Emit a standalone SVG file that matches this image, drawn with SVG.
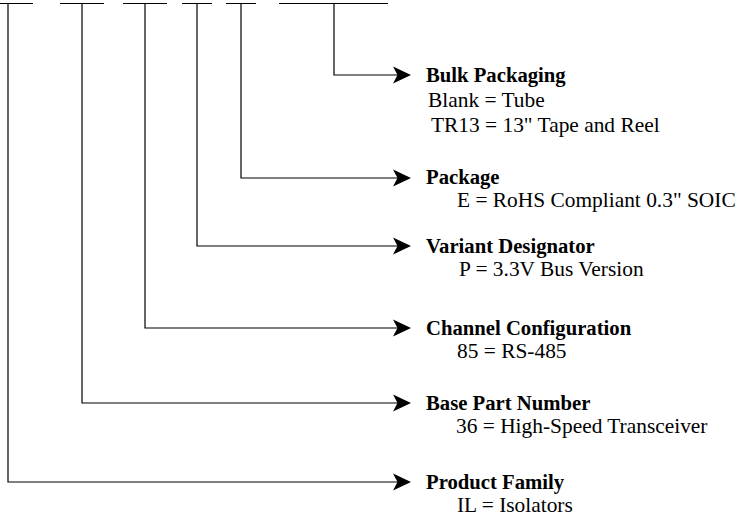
<svg xmlns="http://www.w3.org/2000/svg" width="739" height="520" viewBox="0 0 739 520">
<style>
.ln{stroke:#000;stroke-width:1.2;fill:none}
.ah{fill:#000;stroke:none}
.t{font-family:"Liberation Serif","Times New Roman",serif;font-size:21.4px;fill:#000}
.b{font-weight:bold;font-size:20.7px}
</style>
<defs>
<path id="arr" d="M0,0 L-18,-8.5 L-13.5,0 L-18,8.5 Z"/>
</defs>
<rect width="739" height="520" fill="#fff"/>
<g id="connectors">
<path class="ln" d="M0,3.5 H33 M60,3.5 H104 M123,3.5 H167 M182,3.5 H212 M226,3.5 H256 M279,3.5 H388"/>
<path class="ln" d="M334,3.5 V75 H398"/>
<use href="#arr" class="ah" x="411" y="75"/>
<path class="ln" d="M241,3.5 V178 H398"/>
<use href="#arr" class="ah" x="411" y="178"/>
<path class="ln" d="M197,3.5 V246 H398"/>
<use href="#arr" class="ah" x="411" y="246"/>
<path class="ln" d="M145,3.5 V328 H398"/>
<use href="#arr" class="ah" x="411" y="328"/>
<path class="ln" d="M82,3.5 V403 H398"/>
<use href="#arr" class="ah" x="411" y="403"/>
<path class="ln" d="M8,3.5 V482 H398"/>
<use href="#arr" class="ah" x="411" y="482"/>
</g>
<g id="bulk-packaging">
<text class="t b" x="426" y="82">Bulk Packaging</text>
<text class="t" x="428" y="107">Blank = Tube</text>
<text class="t" x="431" y="132">TR13 = 13" Tape and Reel</text>
</g>
<g id="package">
<text class="t b" x="426" y="184">Package</text>
<text class="t" x="457" y="207">E = RoHS Compliant 0.3" SOIC</text>
</g>
<g id="variant-designator">
<text class="t b" x="426" y="253">Variant Designator</text>
<text class="t" x="459" y="276">P = 3.3V Bus Version</text>
</g>
<g id="channel-configuration">
<text class="t b" x="426" y="335">Channel Configuration</text>
<text class="t" x="457" y="358">85 = RS-485</text>
</g>
<g id="base-part-number">
<text class="t b" x="426" y="410">Base Part Number</text>
<text class="t" x="456" y="433">36 = High-Speed Transceiver</text>
</g>
<g id="product-family">
<text class="t b" x="426" y="489">Product Family</text>
<text class="t" x="457" y="512">IL = Isolators</text>
</g>
</svg>
